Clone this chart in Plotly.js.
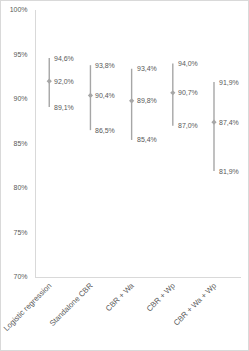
<!DOCTYPE html>
<html><head><meta charset="utf-8">
<script src="https://cdn.plot.ly/plotly-3.0.1.min.js"></script>
<style>
html,body{margin:0;padding:0;background:#fff;}
#wrap{position:relative;width:249px;height:351px;}
#chart{width:249px;height:351px;}
#frame{position:absolute;left:0;top:0;width:247px;height:349px;border:1px solid #d9d9d9;pointer-events:none;}
</style></head>
<body>
<div id="wrap"><div id="chart"></div><div id="frame"></div></div>
<script>
const categories = ["Logistic regression", "Standalone CBR", "CBR + Wa", "CBR + Wp", "CBR + Wa + Wp"];
const highValues = [94.6, 93.8, 93.4, 94.0, 91.9];
const midValues  = [92.0, 90.4, 89.8, 90.7, 87.4];
const lowValues  = [89.1, 86.5, 85.4, 87.0, 81.9];
const yTicks = [70, 75, 80, 85, 90, 95, 100];

const fmt = v => v.toFixed(1).replace('.', ',') + '%';
const gray = '#a6a6a6';
const fam = 'Liberation Sans, Arial, sans-serif';
const txtColor = '#595959';

const traces = categories.map((c, i) => ({
  type: 'scatter', mode: 'lines', x: [c, c], y: [lowValues[i], highValues[i]],
  line: {color: gray, width: 1.4}, hoverinfo: 'skip'
}));
traces.push({
  type: 'scatter', mode: 'markers', x: categories, y: midValues,
  marker: {symbol: 'diamond', size: 4, color: gray}, hoverinfo: 'skip'
});

const annotations = [];
[highValues, midValues, lowValues].forEach(arr => {
  arr.forEach((v, i) => {
    annotations.push({
      x: categories[i], y: v, xref: 'x', yref: 'y', text: fmt(v),
      showarrow: false, xanchor: 'left', yanchor: 'middle', xshift: 3,
      font: {family: fam, size: 7, color: txtColor}
    });
  });
});

const layout = {
  width: 249, height: 351,
  margin: {l: 36, r: 8, t: 10, b: 74},
  paper_bgcolor: '#fff', plot_bgcolor: '#fff',
  showlegend: false,
  font: {family: fam, size: 7, color: txtColor},
  annotations: annotations,
  xaxis: {
    type: 'category', showgrid: false, zeroline: false,
    showline: true, linecolor: '#d9d9d9', linewidth: 1,
    ticks: '', tickangle: -45, tickfont: {family: fam, size: 7.7, color: txtColor}
  },
  yaxis: {
    range: [70, 100], tickvals: yTicks, ticktext: yTicks.map(v => v + '%'),
    showgrid: false, zeroline: false,
    showline: true, linecolor: '#d9d9d9', linewidth: 1,
    ticks: '', ticklabelstandoff: 6, tickfont: {family: fam, size: 7, color: txtColor}
  }
};

Plotly.newPlot('chart', traces, layout, {displayModeBar: false, staticPlot: true});
</script>
</body></html>
